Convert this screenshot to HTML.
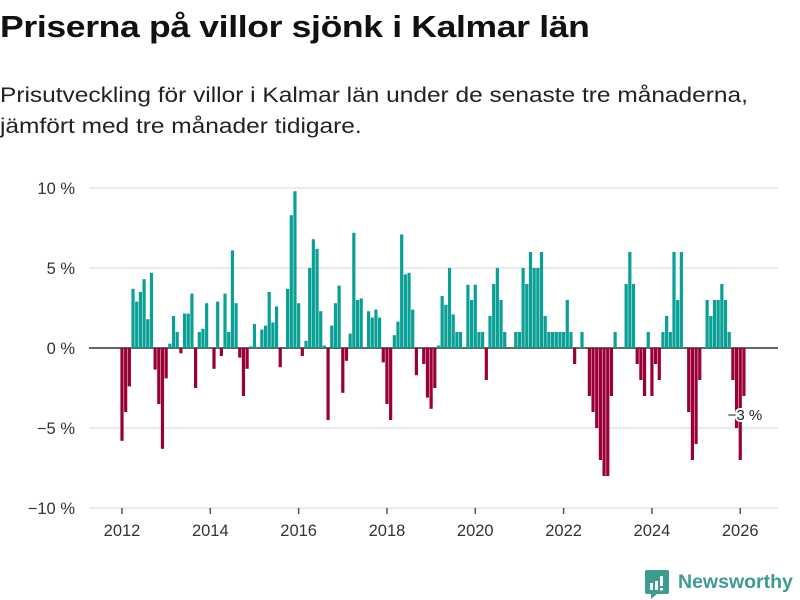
<!DOCTYPE html>
<html><head><meta charset="utf-8">
<style>
body{margin:0;background:#fff;font-family:"Liberation Sans","DejaVu Sans",sans-serif;}
#wrap{position:relative;width:800px;height:600px;overflow:hidden;}
h1{position:absolute;left:0;top:9px;margin:0;font-size:31px;font-weight:bold;color:#111;letter-spacing:-0.3px;transform:scaleX(1.146);transform-origin:0 0;white-space:nowrap;}
p.sub{position:absolute;left:0;top:80px;margin:0;font-size:21px;line-height:31px;color:#222;transform:scaleX(1.165);transform-origin:0 0;white-space:nowrap;}
svg{position:absolute;left:0;top:0;}
</style></head><body>
<div id="wrap">
<h1>Priserna på villor sjönk i Kalmar län</h1>
<p class="sub">Prisutveckling för villor i Kalmar län under de senaste tre månaderna,<br>jämfört med tre månader tidigare.</p>
<svg id="chart" width="800" height="600"></svg>
</div>
<script>
const values = [-5.8,-4.0,-2.4,3.7,2.9,3.5,4.3,1.8,4.7,-1.35,-3.5,-6.3,-1.9,0.27,2.0,1.0,-0.33,2.15,2.15,3.4,-2.5,1.0,1.2,2.8,0,-1.3,2.9,-0.5,3.4,1.0,6.1,2.8,-0.6,-3.0,-1.3,0.1,1.5,0,1.15,1.4,3.5,1.6,2.6,-1.2,0,3.7,8.3,9.8,2.8,-0.5,0.45,5.0,6.8,6.2,2.3,0.15,-4.5,1.4,2.8,3.9,-2.8,-0.8,0.9,7.2,3.0,3.1,0,2.3,1.9,2.4,1.9,-0.9,-3.5,-4.5,0.8,1.65,7.1,4.6,4.7,2.4,-1.7,0,-1.0,-3.1,-3.8,-2.5,0.15,3.25,2.7,5.0,2.1,1.0,1.0,0,3.95,3.0,3.95,1.0,1.0,-2.0,2.0,4.0,5.0,3.0,1.0,0,0,1.0,1.0,5.0,4.0,6.0,5.0,5.0,6.0,2.0,1.0,1.0,1.0,1.0,1.0,3.0,1.0,-1.0,0,1.0,0,-3.0,-4.0,-5.0,-7.0,-8.0,-8.0,-3.0,1.0,0,0,4.0,6.0,4.0,-1.0,-2.0,-3.0,1.0,-3.0,-1.0,-2.0,1.0,2.0,1.0,6.0,3.0,6.0,0,-4.0,-7.0,-6.0,-2.0,0,3.0,2.0,3.0,3.0,4.0,3.0,1.0,-2.0,-5.0,-7.0,-3.0];
const startYear = 2012;
const yTicks = [10,5,0,-5,-10];
const yTickLabels = ["10 %","5 %","0 %","\u22125 %","\u221210 %"];
const xTickYears = [2012,2014,2016,2018,2020,2022,2024,2026];
const lastLabel = "\u22123 %";

const NS="http://www.w3.org/2000/svg";
const svg=document.getElementById('chart');
function mk(t,a){const e=document.createElementNS(NS,t);for(const k in a)e.setAttribute(k,a[k]);svg.appendChild(e);return e;}
const y=v=>348-v*16;
const x=i=>122+i*3.68;

yTicks.forEach((t,k)=>{
  const g=mk('line',{x1:89,x2:778,y1:y(t),y2:y(t),stroke:t===0?'#333':'#ddd','stroke-width':t===0?1.6:1.3});
  
  
  const tx=mk('text',{x:75,y:y(t)+6,'text-anchor':'end','font-size':16.5,fill:'#333'});
  tx.textContent=yTickLabels[k];
  
  
});
values.forEach((v,i)=>{
  if(v===0)return;
  const r=mk('rect',{x:x(i)-1.6,width:3.2,y:Math.min(y(v),348),height:Math.abs(y(v)-348),fill:v>0?'#0aa096':'#990037'});
  
  
});
xTickYears.forEach(yr=>{
  const xi=x((yr-startYear)*12);
  const tk=mk('line',{x1:xi,x2:xi,y1:508,y2:514,stroke:'#555','stroke-width':1.5});
  
  
  const tl=mk('text',{x:xi,y:536,'text-anchor':'middle','font-size':16.5,fill:'#333'});
  tl.textContent=yr;
  
  
});
const li=values.length-1;
const lab=mk('text',{x:x(li)+1,y:420,'text-anchor':'middle','font-size':15,fill:'#222',stroke:'#fff','stroke-width':4,'paint-order':'stroke'});
lab.textContent=lastLabel;


</script>
<div style="position:absolute;left:645px;top:570px;">
 <svg width="26" height="30" viewBox="0 0 26 30" style="position:absolute;left:0;top:0">
  <path d="M0 2 Q0 0 2 0 H22 Q24 0 24 2 V22 Q24 24 22 24 H12 L6 29 V24 H2 Q0 24 0 22Z" fill="#3d9b8f"/>
  <rect x="5" y="13" width="3" height="7" fill="#fff"/><rect x="10" y="11" width="3" height="9" fill="#fff"/><rect x="15" y="6" width="3" height="10" fill="#fff"/><rect x="15" y="18" width="3" height="2.5" fill="#fff"/>
 </svg>
 <span style="position:absolute;left:33px;top:1px;font-size:19.5px;font-weight:bold;color:#3d9b8f;white-space:nowrap;">Newsworthy</span>
</div>
</body></html>
